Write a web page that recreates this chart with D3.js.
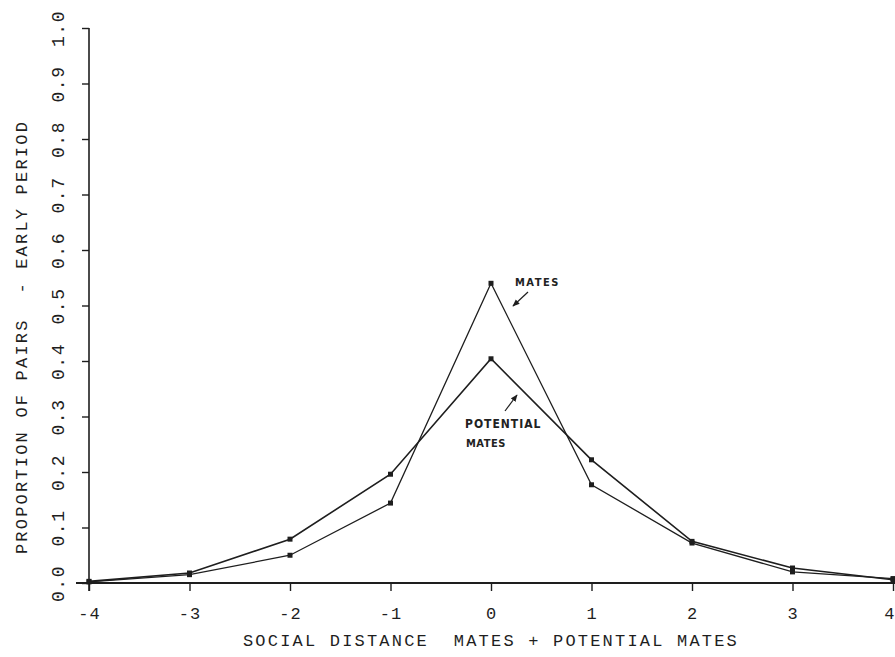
<!DOCTYPE html>
<html>
<head>
<meta charset="utf-8">
<script src="https://cdn.jsdelivr.net/npm/d3@7"></script>
<style>
  html, body { margin: 0; padding: 0; background: #fff; }
  svg { display: block; }
  .plot-text { font-family: "Liberation Mono", "DejaVu Sans Mono", monospace; fill: #1e1e1e; white-space: pre; }
  .note { font-family: "DejaVu Sans Condensed", "DejaVu Sans", sans-serif; font-weight: bold; fill: #222; }
</style>
</head>
<body>
<script>
// Social distance between partners, early period
const distances = [-4, -3, -2, -1, 0, 1, 2, 3, 4];
const mates = [0.002, 0.015, 0.050, 0.144, 0.540, 0.177, 0.072, 0.020, 0.008];
const potentialMates = [0.003, 0.018, 0.079, 0.196, 0.404, 0.222, 0.075, 0.027, 0.006];
const xTicks = [-4, -3, -2, -1, 0, 1, 2, 3, 4];
const yTicks = [0.0, 0.1, 0.2, 0.3, 0.4, 0.5, 0.6, 0.7, 0.8, 0.9, 1.0];
const xTitle = "SOCIAL DISTANCE  MATES + POTENTIAL MATES";
const yTitle = "PROPORTION OF PAIRS  - EARLY PERIOD";

const W = 895, H = 657;
const svg = d3.select("body").append("svg").attr("width", W).attr("height", H);

const x = d3.scaleLinear().domain([-4, 4]).range([89, 893]);
const y = d3.scaleLinear().domain([0, 1]).range([583, 28]);

const ink = "#1e1e1e";

// x axis: baseline runs a little past both ends
svg.append("line")
  .attr("x1", 76).attr("x2", W)
  .attr("y1", y(0)).attr("y2", y(0))
  .attr("stroke", ink).attr("stroke-width", 2);

const xAxis = svg.append("g")
  .attr("transform", `translate(0,${y(0)})`)
  .call(d3.axisBottom(x).tickValues(xTicks).tickSize(8).tickSizeOuter(0)
    .tickFormat(d => String(d)));
xAxis.select(".domain").remove();
xAxis.selectAll(".tick line").attr("stroke", ink).attr("stroke-width", 1.4);
xAxis.selectAll(".tick text")
  .attr("class", "plot-text")
  .attr("y", 36).attr("dy", 0)
  .style("font-size", "17px").style("letter-spacing", "1px")
  .attr("fill", ink);
// keep the last label inside the page edge
xAxis.selectAll(".tick text").filter(d => d === 4)
  .attr("text-anchor", "end").attr("x", 2);

// y axis
svg.append("line")
  .attr("x1", x(-4)).attr("x2", x(-4))
  .attr("y1", y(1)).attr("y2", y(0) + 8)
  .attr("stroke", ink).attr("stroke-width", 1.6);

const yAxis = svg.append("g")
  .attr("transform", `translate(${x(-4)},0)`)
  .call(d3.axisLeft(y).tickValues(yTicks).tickSize(7).tickSizeOuter(0)
    .tickFormat(d3.format(".1f")));
yAxis.select(".domain").remove();
yAxis.selectAll(".tick line").attr("stroke", ink).attr("stroke-width", 1.4);
yAxis.selectAll(".tick text")
  .attr("class", "plot-text")
  .attr("transform", "rotate(-90)")
  .attr("x", 0).attr("y", -25).attr("dy", 0)
  .attr("text-anchor", "middle")
  .style("font-size", "18px").style("letter-spacing", "1.5px")
  .attr("fill", ink);

// axis titles
svg.append("text")
  .attr("class", "plot-text")
  .attr("x", 491).attr("y", 646)
  .attr("text-anchor", "middle")
  .style("font-size", "17px").style("letter-spacing", "2.2px")
  .text(xTitle);

svg.append("text")
  .attr("class", "plot-text")
  .attr("transform", "translate(27,337) rotate(-90)")
  .attr("text-anchor", "middle")
  .style("font-size", "17px").style("letter-spacing", "2.2px")
  .text(yTitle);

// series lines
const line = d3.line()
  .x((d, i) => x(distances[i]))
  .y(d => y(d));

[[mates, 1.3], [potentialMates, 1.6]].forEach(([vals, sw]) => {
  svg.append("path")
    .attr("d", line(vals))
    .attr("fill", "none")
    .attr("stroke", ink)
    .attr("stroke-width", sw)
    .attr("stroke-linejoin", "miter");
  svg.append("g").selectAll("rect")
    .data(vals)
    .join("rect")
    .attr("x", (d, i) => x(distances[i]) - 2.5)
    .attr("y", d => y(d) - 2.5)
    .attr("width", 5).attr("height", 5)
    .attr("fill", ink);
});

// hand-lettered notes with arrows
svg.append("defs").append("marker")
  .attr("id", "head")
  .attr("viewBox", "0 0 10 10")
  .attr("refX", 9).attr("refY", 5)
  .attr("markerWidth", 6).attr("markerHeight", 6)
  .attr("orient", "auto")
  .append("path").attr("d", "M0,1 L10,5 L0,9 Z").attr("fill", ink);

svg.append("text").attr("class", "note")
  .attr("x", 515).attr("y", 286).style("font-size", "11px").style("letter-spacing", "1.5px")
  .text("MATES");
svg.append("line")
  .attr("x1", 528).attr("y1", 292).attr("x2", 513).attr("y2", 306)
  .attr("stroke", ink).attr("stroke-width", 1.2).attr("marker-end", "url(#head)");

svg.append("text").attr("class", "note")
  .attr("x", 465).attr("y", 428).style("font-size", "12px").style("letter-spacing", "1px")
  .text("POTENTIAL");
svg.append("text").attr("class", "note")
  .attr("x", 466).attr("y", 447).style("font-size", "11px").style("letter-spacing", "0.5px")
  .text("MATES");
svg.append("line")
  .attr("x1", 505).attr("y1", 411).attr("x2", 517).attr("y2", 395)
  .attr("stroke", ink).attr("stroke-width", 1.2).attr("marker-end", "url(#head)");
</script>
</body>
</html>
